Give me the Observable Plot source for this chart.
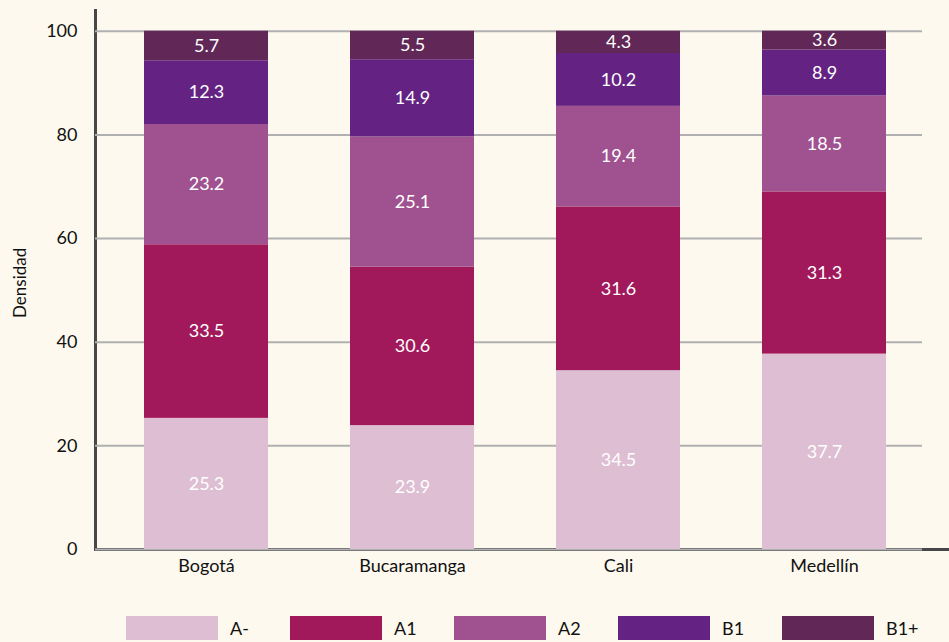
<!DOCTYPE html>
<html>
<head>
<meta charset="utf-8">
<script src="https://cdn.jsdelivr.net/npm/d3@7"></script>
<script src="https://cdn.jsdelivr.net/npm/@observablehq/plot@0.6"></script>
<style>
  html, body { margin: 0; padding: 0; background: #fdf9ee; }
  body { width: 949px; height: 642px; overflow: hidden; font-family: Lato, "Noto Sans", sans-serif; }
  #chart svg { display: block; }
  #chart svg [aria-label="frame"] { stroke: #474747; stroke-width: 3; }
  #legend { display: flex; padding-left: 126px; margin-top: 16px; height: 24px; }
  .item { width: 164px; display: flex; align-items: center; }
  .sw { width: 92px; height: 24px; margin-right: 12px; }
  .lb { font-size: 18px; color: #111; }
</style>
</head>
<body>
<div id="chart"></div>
<div id="legend"></div>
<script>
const cities = ["Bogotá", "Bucaramanga", "Cali", "Medellín"];
const levels = ["A-", "A1", "A2", "B1", "B1+"];
const colors = ["#ddbed2", "#a1195b", "#9f528f", "#642383", "#612756"];
const valuesAminus = [25.3, 23.9, 34.5, 37.7];
const valuesA1 = [33.5, 30.6, 31.6, 31.3];
const valuesA2 = [23.2, 25.1, 19.4, 18.5];
const valuesB1 = [12.3, 14.9, 10.2, 8.9];
const valuesB1plus = [5.7, 5.5, 4.3, 3.6];
const yTicks = [0, 20, 40, 60, 80, 100];

const series = [valuesAminus, valuesA1, valuesA2, valuesB1, valuesB1plus];
const data = [];
cities.forEach((c, i) => {
  levels.forEach((l, j) => {
    data.push({city: c, level: l, value: series[j][i]});
  });
});

const chart = Plot.plot({
  width: 949,
  height: 600,
  marginTop: 10,
  marginBottom: 51,
  marginLeft: 95,
  marginRight: 0,
  style: {fontFamily: "Lato, 'Noto Sans', sans-serif", fontSize: "18px", background: "transparent", color: "#111"},
  x: {domain: cities, insetLeft: 8, insetRight: 22, paddingInner: 0.4, paddingOuter: 0.2, label: null, tickSize: 0, tickPadding: 10, line: true},
  y: {domain: [0, 104], ticks: yTicks, label: null, tickSize: 0, tickPadding: 18, line: true},
  color: {domain: levels, range: colors},
  marks: [
    Plot.gridY(yTicks, {stroke: "#b0b0b0", strokeOpacity: 1, strokeWidth: 2, insetRight: 27}),
    Plot.barY(data, {x: "city", y: "value", fill: "level", order: levels}),
    Plot.text(data, Plot.stackY({x: "city", y: "value", z: "level", order: levels, text: d => d.value.toFixed(1), fill: "white", fontSize: 18})),
    Plot.text(["Densidad"], {frameAnchor: "left", rotate: -90, dx: -75, dy: 38, fontSize: 17, fill: "#111"})
  ]
});
document.getElementById("chart").appendChild(chart);

const legend = document.getElementById("legend");
levels.forEach((l, j) => {
  const item = document.createElement("div");
  item.className = "item";
  const sw = document.createElement("div");
  sw.className = "sw";
  sw.style.background = colors[j];
  const lb = document.createElement("span");
  lb.className = "lb";
  lb.textContent = l;
  item.appendChild(sw);
  item.appendChild(lb);
  legend.appendChild(item);
});
</script>
</body>
</html>
